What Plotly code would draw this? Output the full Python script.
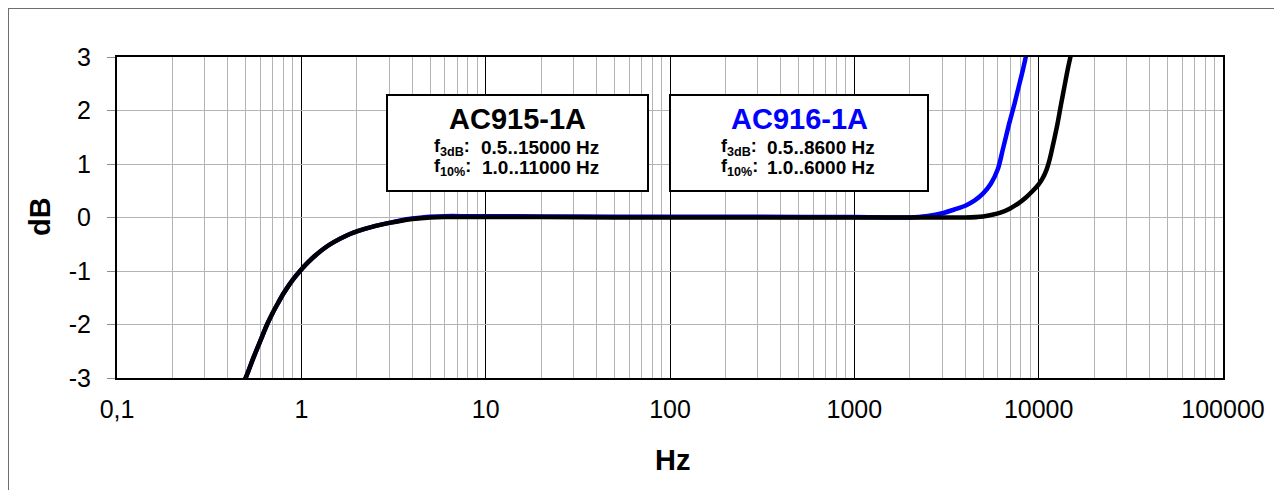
import plotly.graph_objects as go

# ---- data ----
freq_915 = [0.48, 0.5, 0.55, 0.6, 0.65, 0.7, 0.75, 0.8, 0.9, 1.0, 1.1, 1.2, 1.35, 1.5, 1.75,
            2.0, 2.5, 3.0, 3.5, 4.0, 5.0, 6.0, 8.0, 10, 20, 50, 100, 300, 1000, 2000, 3000,
            4000, 5000, 5600, 6200, 7000, 7800, 8500, 9300, 10000, 10500, 11000, 11500, 12000,
            12600, 13200, 13800, 14400, 15200]
db_915 = [-3.1, -2.99, -2.62, -2.3, -2.01, -1.78, -1.59, -1.42, -1.16, -0.97, -0.82, -0.7,
          -0.56, -0.46, -0.34, -0.26, -0.16, -0.1, -0.06, -0.03, 0.0, 0.01, 0.01, 0.01, 0.01,
          0.0, 0.0, 0.0, 0.0, 0.0, 0.0, 0.0, 0.02, 0.05, 0.09, 0.17, 0.27, 0.37, 0.5, 0.62,
          0.73, 0.88, 1.1, 1.38, 1.72, 2.1, 2.45, 2.78, 3.15]

freq_916 = [0.48, 0.5, 0.55, 0.6, 0.65, 0.7, 0.75, 0.8, 0.9, 1.0, 1.1, 1.2, 1.35, 1.5, 1.75,
            2.0, 2.5, 3.0, 3.5, 4.0, 5.0, 6.0, 8.0, 10, 20, 50, 100, 300, 1000, 2000, 2500,
            3000, 3500, 4000, 4500, 5000, 5500, 6000, 6400, 6900, 7400, 7800, 8200, 8700]
db_916 = [-3.1, -2.99, -2.62, -2.3, -2.01, -1.78, -1.59, -1.42, -1.16, -0.97, -0.82, -0.7,
          -0.56, -0.46, -0.34, -0.26, -0.16, -0.1, -0.05, -0.02, 0.015, 0.025, 0.025, 0.025,
          0.02, 0.015, 0.015, 0.012, 0.01, 0.0, 0.03, 0.08, 0.15, 0.22, 0.32, 0.45, 0.63,
          0.9, 1.28, 1.74, 2.13, 2.45, 2.75, 3.15]

x_tickvals = [0.1, 1, 10, 100, 1000, 10000, 100000]
x_ticktext = ["0,1", "1", "10", "100", "1000", "10000", "100000"]
y_tickvals = [-3, -2, -1, 0, 1, 2, 3]
y_ticktext = ["-3", "-2", "-1", "0", "1", "2", "3"]

boxes = [
    dict(title="AC915-1A", color="black", f3="0.5..15000 Hz", f10="1.0..11000 Hz"),
    dict(title="AC916-1A", color="#0000FF", f3="0.5..8600 Hz", f10="1.0..6000 Hz"),
]

# ---- layout geometry (pixels); page offset of the figure inside the window ----
OX, OY = 8, 8
W, H = 1282 - OX, 490 - OY
L, T = 117 - OX, 57 - OY
PW, PH = 1106, 321
R, B = W - L - PW, H - T - PH


def px(x):
    """screen x (reference coords) -> paper x"""
    return (x - OX - L) / PW


def py(y):
    """screen y (reference coords) -> paper y"""
    return (T + PH - (y - OY)) / PH


FONT = "Liberation Sans, Arial, sans-serif"

fig = go.Figure()
fig.add_trace(go.Scatter(x=freq_916, y=db_916, mode="lines", name="AC916-1A",
                         line=dict(color="#0000FF", width=4.5, shape="spline", smoothing=0.8)))
fig.add_trace(go.Scatter(x=freq_915, y=db_915, mode="lines", name="AC915-1A",
                         line=dict(color="black", width=4.5, shape="spline", smoothing=0.8)))

minor_vals = [d * 10 ** e for e in range(-1, 5) for d in range(2, 10)]

fig.update_xaxes(type="log", range=[-1, 5], tickvals=x_tickvals, ticktext=x_ticktext,
                 showgrid=True, gridcolor="black", gridwidth=1,
                 showline=True, linecolor="black", linewidth=2, mirror=True,
                 ticks="", ticklabelstandoff=8,
                 tickfont=dict(family=FONT, size=25, color="black"),
                 minor=dict(tickvals=minor_vals, showgrid=True, gridcolor="#b4b4b4",
                            gridwidth=1, ticks=""),
                 zeroline=False)
fig.update_yaxes(range=[-3, 3], tickvals=y_tickvals, ticktext=y_ticktext,
                 showgrid=True, gridcolor="#b4b4b4",
                 gridwidth=1, showline=True, linecolor="black", linewidth=2, mirror=True,
                 ticks="outside", ticklen=8, tickcolor="#8c8c8c", tickwidth=1,
                 ticklabelstandoff=11,
                 tickfont=dict(family=FONT, size=25, color="black"), zeroline=False)

shapes = [dict(type="rect", xref="paper", yref="paper", x0=px(8), y0=py(520),
               x1=px(1320), y1=py(8), line=dict(color="#6e6e6e", width=2),
               fillcolor="rgba(0,0,0,0)", layer="below")]
annotations = []
box_px = [(387, 648, 432, 601), (670, 928, 719, 877)]
for b, (x0, x1, lx, rx) in zip(boxes, box_px):
    shapes.append(dict(type="rect", xref="paper", yref="paper", x0=px(x0), x1=px(x1),
                       y0=py(191), y1=py(95), line=dict(color="black", width=2),
                       fillcolor="white", layer="above"))
    annotations.append(dict(xref="paper", yref="paper", x=px((x0 + x1) / 2), y=py(119),
                            text="<b>" + b["title"] + "</b>", showarrow=False,
                            xanchor="center", yanchor="middle",
                            font=dict(family=FONT, size=29, color=b["color"])))
    for yy, lab, val in [(147, "f<sub>3dB</sub>:", b["f3"]), (167, "f<sub>10%</sub>:", b["f10"])]:
        annotations.append(dict(xref="paper", yref="paper", x=px(lx), y=py(yy),
                                text="<b>" + lab + "</b>", showarrow=False,
                                xanchor="left", yanchor="middle",
                                font=dict(family=FONT, size=18, color="black")))
        annotations.append(dict(xref="paper", yref="paper", x=px(rx), y=py(yy),
                                text="<b>" + val + "</b>", showarrow=False,
                                xanchor="right", yanchor="middle",
                                font=dict(family=FONT, size=19, color="black")))

annotations.append(dict(xref="paper", yref="paper", x=px(40), y=py(217), text="<b>dB</b>",
                        showarrow=False, textangle=-90, xanchor="center", yanchor="middle",
                        font=dict(family=FONT, size=29, color="black")))
annotations.append(dict(xref="paper", yref="paper", x=px(672), y=py(460), text="<b>Hz</b>",
                        showarrow=False, xanchor="center", yanchor="middle",
                        font=dict(family=FONT, size=29, color="black")))

fig.update_layout(width=W, height=H, margin=dict(l=L, r=R, t=T, b=B),
                  paper_bgcolor="white", plot_bgcolor="white", showlegend=False,
                  shapes=shapes, annotations=annotations)

fig.write_html("out.html")
